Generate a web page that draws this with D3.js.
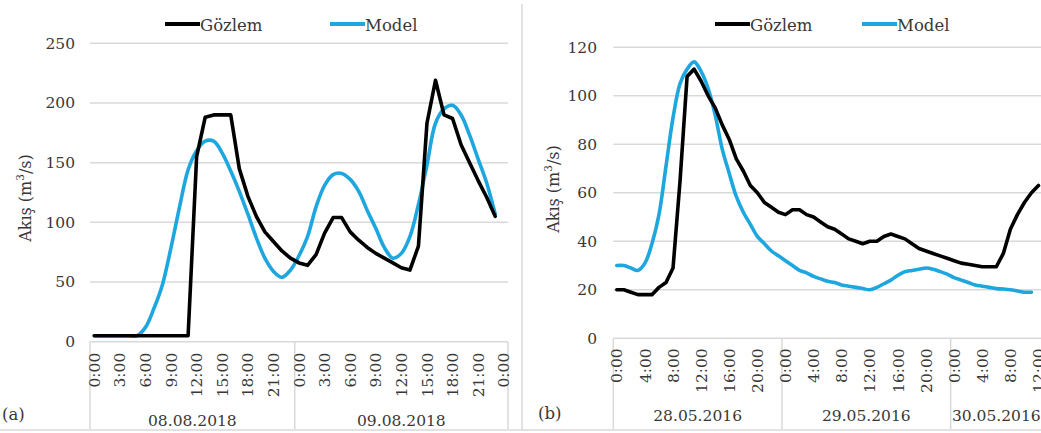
<!DOCTYPE html>
<html>
<head>
<meta charset="utf-8">
<script src="https://cdn.jsdelivr.net/npm/d3@7"></script>
<style>
  html, body { margin: 0; padding: 0; background: #ffffff; }
  svg { display: block; }
  svg text { font-family: "DejaVu Serif", serif; fill: #383838; }
</style>
</head>
<body>
<svg id="chart" width="1041" height="433"></svg>
<script>
// ---- Panel (a): 08.08.2018 – 09.08.2018, hourly flow ----
const daysA = ["08.08.2018", "09.08.2018"];
const dayHoursA = [24, 25];            // hourly categories in each date group
const tickLabelsA = ["0:00","3:00","6:00","9:00","12:00","15:00","18:00","21:00",
                     "0:00","3:00","6:00","9:00","12:00","15:00","18:00","21:00","0:00"];
const tickStepA = 3;
const yTicksA = [0, 50, 100, 150, 200, 250];
const observedA = [5,5,5,5,5,5,5,5,5,5,5,5,155,188,190,190,190,145,122,105,92,84,76,70,
                   66,64,73,91,104,104,92,85,79,74,70,66,62,60,80,183,219,190,187,165,150,135,121,105];
const modelA = [5,5,5,5,5,5,12,28,48,79,113,144,160,168,168,158,143,126,107,87,70,59,54,60,
                72,88,113,131,140,141,136,126,110,95,79,70,74,88,115,148,183,195,198,190,173,153,133,107];

// ---- Panel (b): 28.05.2016 – 30.05.2016, hourly flow ----
const daysB = ["28.05.2016", "29.05.2016", "30.05.2016"];
const dayHoursB = [24, 24, 13];
const tickLabelsB = ["0:00","4:00","8:00","12:00","16:00","20:00",
                     "0:00","4:00","8:00","12:00","16:00","20:00",
                     "0:00","4:00","8:00","12:00"];
const tickStepB = 4;
const yTicksB = [0, 20, 40, 60, 80, 100, 120];
const observedB = [20,20,19,18,18,18,21,23,29,65,108,111,106,100,95,88,82,74,69,63,60,56,54,52,
                   51,53,53,51,50,48,46,45,43,41,40,39,40,40,42,43,42,41,39,37,36,35,34,33,
                   32,31,30.5,30,29.5,29.5,29.5,35,45,51,56,60,63];
const modelB = [30,30,29,28,31,39,51,71,91,105,111,114,110,103,92,78,68,58.5,52,47,42,39,36,34,
                32,30,28,27,25.5,24.5,23.5,23,22,21.5,21,20.5,20,21,22.5,24,26,27.5,28,28.5,29,28.5,
                27.5,26.5,25,24,23,22,21.5,21,20.5,20.3,20,19.5,19,19];

const seriesNames = ["Gözlem", "Model"];
const seriesColors = ["#000000", "#1ea6df"];
const fontFamily = "DejaVu Serif, serif";

const svg = d3.select("#chart");

function drawPanel(p) {
  const g = svg.append("g");
  const n = d3.sum(p.dayHours);
  const x = d3.scaleBand().domain(d3.range(n)).range([p.left, p.right]);
  const cx = i => x(i) + x.bandwidth() / 2;
  const y = d3.scaleLinear().domain(p.yDomain).range([p.bottom, p.top]);
  const edge = i => (i < n ? x(i) : p.right);

  // horizontal gridlines
  g.append("g").selectAll("line").data(p.yTicks.filter(v => v > 0)).join("line")
    .attr("x1", p.left).attr("x2", p.right)
    .attr("y1", d => y(d)).attr("y2", d => y(d))
    .attr("stroke", "#d9d9d9").attr("stroke-width", 1.5);

  // value axis labels
  const yAxis = d3.axisLeft(y).tickValues(p.yTicks).tickSize(0).tickPadding(0);
  const ya = g.append("g").attr("transform", `translate(${p.yLabelX},0)`).call(yAxis)
    .attr("font-family", fontFamily);
  ya.select(".domain").remove();
  ya.selectAll("text").attr("font-size", 15.5).attr("fill", "#383838");

  // category axis line and group separators
  g.append("line").attr("x1", p.left).attr("x2", p.right)
    .attr("y1", p.bottom).attr("y2", p.bottom)
    .attr("stroke", "#d9d9d9").attr("stroke-width", 1.5);
  const bounds = [0, ...Array.from(d3.cumsum(p.dayHours))];
  g.append("g").selectAll("line").data(bounds).join("line")
    .attr("x1", d => edge(d)).attr("x2", d => edge(d))
    .attr("y1", p.bottom).attr("y2", p.groupBottom)
    .attr("stroke", "#d9d9d9").attr("stroke-width", 1.5);

  // hour tick labels (rotated)
  g.append("g").selectAll("text").data(p.tickLabels).join("text")
    .attr("transform", (d, k) => `translate(${cx(k * p.tickStep)},${p.bottom + p.labelGap}) rotate(-90)`)
    .attr("text-anchor", "end").attr("dy", "0.36em")
    .attr("font-size", 15.5).text(d => d);

  // date group labels
  g.append("g").selectAll("text").data(p.days).join("text")
    .attr("x", (d, k) => (edge(bounds[k]) + edge(bounds[k + 1])) / 2)
    .attr("y", p.dateY).attr("text-anchor", "middle")
    .attr("font-size", 15.5).text(d => d);

  // series lines
  const lineObs = d3.line().defined(d => d != null).x((d, i) => cx(i)).y(d => y(d));
  const lineMod = d3.line().defined(d => d != null).x((d, i) => cx(i)).y(d => y(d))
    .curve(d3.curveCatmullRom.alpha(0.5));
  g.append("path").datum(p.model).attr("d", lineMod)
    .attr("fill", "none").attr("stroke", seriesColors[1]).attr("stroke-width", 3.6)
    .attr("stroke-linejoin", "round").attr("stroke-linecap", "round");
  g.append("path").datum(p.observed).attr("d", lineObs)
    .attr("fill", "none").attr("stroke", seriesColors[0]).attr("stroke-width", 3.6)
    .attr("stroke-linejoin", "round").attr("stroke-linecap", "round");

  // y axis title
  g.append("text")
    .attr("transform", `translate(${p.titleX},${p.titleY}) rotate(-90)`)
    .attr("text-anchor", "middle").attr("dy", "0.35em").attr("font-size", 16)
    .call(t => {
      t.append("tspan").text("Akış (m");
      t.append("tspan").attr("font-size", 10.5).attr("dy", "-0.6em").text("3");
      t.append("tspan").attr("dy", "0.42em").text("/s)");
    });

  // legend
  const lg = g.append("g");
  seriesNames.forEach((name, k) => {
    const lx = p.legendX[k];
    lg.append("line").attr("x1", lx).attr("x2", lx + 35)
      .attr("y1", p.legendY).attr("y2", p.legendY)
      .attr("stroke", seriesColors[k]).attr("stroke-width", 4);
    lg.append("text").attr("x", lx + 35).attr("y", p.legendY + 6.5)
      .attr("font-size", 16.5).text(name);
  });

  // panel tag
  g.append("text").attr("x", p.tagX).attr("y", p.tagY).attr("font-size", 16.5).text(p.tag);
}

drawPanel({
  days: daysA, dayHours: dayHoursA, tickLabels: tickLabelsA, tickStep: tickStepA,
  yTicks: yTicksA, yDomain: [0, 250], observed: observedA, model: modelA,
  left: 90, right: 508, top: 43.3, bottom: 341.7, groupBottom: 429,
  yLabelX: 75, labelGap: 11, dateY: 426, titleX: 25, titleY: 198,
  legendX: [165, 330], legendY: 24, tag: "(a)", tagX: 2, tagY: 420
});

drawPanel({
  days: daysB, dayHours: dayHoursB, tickLabels: tickLabelsB, tickStep: tickStepB,
  yTicks: yTicksB, yDomain: [0, 120], observed: observedB, model: modelB,
  left: 613.3, right: 1042, top: 47.3, bottom: 338.3, groupBottom: 429,
  yLabelX: 597, labelGap: 10, dateY: 421, titleX: 553, titleY: 189,
  legendX: [715, 862], legendY: 24, tag: "(b)", tagX: 538, tagY: 419
});

// frame lines between and below the panels
svg.append("line").attr("x1", 522).attr("x2", 522).attr("y1", 4).attr("y2", 430)
  .attr("stroke", "#d9d9d9").attr("stroke-width", 1.5);
svg.append("line").attr("x1", 0).attr("x2", 1041).attr("y1", 430).attr("y2", 430)
  .attr("stroke", "#d9d9d9").attr("stroke-width", 1.5);
</script>
</body>
</html>
